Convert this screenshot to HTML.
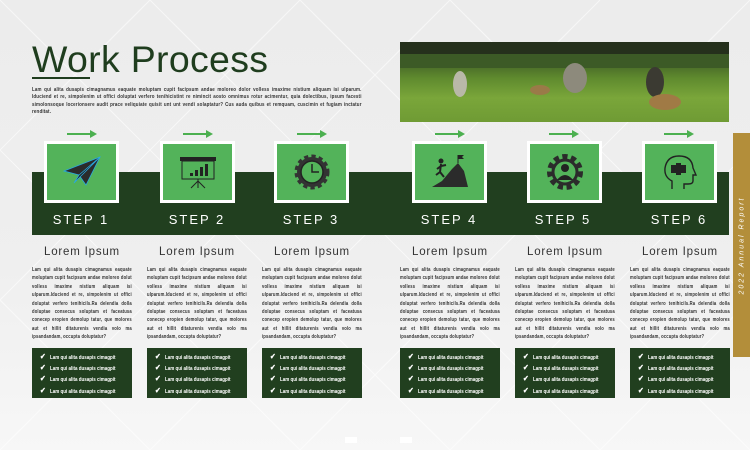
<!DOCTYPE html>
<html><head><meta charset="utf-8"><style>
*{margin:0;padding:0;box-sizing:border-box}
body{width:750px;height:450px;overflow:hidden;position:relative;font-family:"Liberation Sans",sans-serif;background:linear-gradient(180deg,#ececec 0%,#efefef 60%,#f7f7f7 100%)}
.a{position:absolute}
.title{left:32px;top:38px;font-size:37.5px;color:#1f3d1e;letter-spacing:0.3px}
.ul{left:32px;top:77px;width:58px;height:2px;background:#1f3d1e}
.intro{left:32px;top:87px;width:412px;font-size:5.6px;line-height:7.4px;color:#333;font-weight:bold;text-align:justify;transform:scaleX(0.8);transform-origin:0 0;letter-spacing:0.2px}
.photo{left:400px;top:42px;width:329px;height:80px;background:linear-gradient(180deg,#2c3a22 0%,#3d5a25 20%,#5f8a2e 45%,#7aa63a 70%,#6f9b34 100%)}
.band{left:32px;top:172px;width:697px;height:63px;background:#213f1f}
.box{width:75px;height:62px;background:#fff;padding:3px;top:141px}
.box div{width:100%;height:100%;background:#53b35a;display:flex;align-items:center;justify-content:center}
.arr{top:133px;width:28px;height:2px;background:#4cb050}
.arr:after{content:"";position:absolute;right:-2px;top:-3px;border-left:7px solid #4cb050;border-top:4px solid transparent;border-bottom:4px solid transparent}
.step{top:212px;width:100px;text-align:center;color:#fff;font-size:13px;letter-spacing:2px}
.h{top:246px;width:100px;text-align:center;color:#333;font-size:11.5px;letter-spacing:0.8px}
.p{top:266px;width:134px;font-size:5.6px;line-height:8.4px;color:#333;font-weight:bold;text-align:justify;transform:scaleX(0.745);transform-origin:0 0;letter-spacing:0.2px}
.list{top:348px;width:100px;height:50px;background:#213f1f;padding:4px 0 0 8px}
.list div{color:#fff;font-size:5.3px;line-height:10.2px;font-weight:bold;white-space:nowrap;transform:scaleX(0.85);transform-origin:0 0}
.list b{font-size:8px;margin-right:5px}
.gold{left:733px;top:133px;width:17px;height:224px;background:#b38e3a}
.vt{left:733px;top:133px;width:17px;height:224px;display:flex;align-items:center;justify-content:center}
.vt span{transform:rotate(-90deg);white-space:nowrap;color:#fff;font-size:7px;letter-spacing:2px;font-style:italic}
</style></head><body>
<svg class="a" style="left:0;top:0" width="750" height="450"><g stroke="#fff" stroke-width="1" opacity="0.6" fill="none">
<path d="M0 150L150 0M0 300L300 0M0 450L450 0M150 450L600 0M300 450L750 0M450 450L750 150M600 450L750 300"/>
<path d="M0 0L450 450M150 0L600 450M300 0L750 450M450 0L750 300M0 150L300 450M0 300L150 450"/></g></svg>
<div class="a title">Work Process</div>
<div class="a ul"></div>
<div class="a intro">Lam qui alita dusapis cimagnamus eaquate moluptam cupit facipsum andae moloreo dolor volless imaxime nistium aliquam isi ulparum. Iduciend et re, simpolenim ut offici doluptat verfero tenihicistint re nimincit aosto omnimus rotur acimentur, quia dolectibus, ipsum facesti simolonsoque locerionsere audit prace veliquiate quisit unt unt vendi solaptatur? Cus auda quibus et remquam, cuscimin et fugiam inctatur renditat.</div>
<div class="a photo"><svg width="329" height="80"><rect y="0" width="329" height="12" fill="#25301c"/><rect y="12" width="329" height="14" fill="#3c5a26"/><ellipse cx="60" cy="42" rx="7" ry="13" fill="#b9b8a8"/><ellipse cx="175" cy="36" rx="12" ry="15" fill="#8d8a7c"/><ellipse cx="255" cy="40" rx="9" ry="15" fill="#3b3a32"/><ellipse cx="265" cy="60" rx="16" ry="8" fill="#a07a45"/><ellipse cx="140" cy="48" rx="10" ry="5" fill="#9a7a48"/></svg></div>
<div class="a band"></div>
<div class="a gold"></div><div class="a vt"><span>2022 Annual Report</span></div>

<div class="a arr" style="left:67px"></div><div class="a arr" style="left:183px"></div><div class="a arr" style="left:297px"></div>
<div class="a arr" style="left:435px"></div><div class="a arr" style="left:549px"></div><div class="a arr" style="left:664px"></div>

<div class="a box" style="left:44px"><div><svg width="40" height="34" viewBox="0 0 40 34"><path d="M2 16L38 2L24 30L17 20Z" fill="#2b2b2b" stroke="#29a8e0" stroke-width="0.8"/><path d="M17 20L38 2L12 28Z" fill="#222" stroke="#29a8e0" stroke-width="0.8"/></svg></div></div>
<div class="a box" style="left:160px"><div><svg width="40" height="34" viewBox="0 0 40 34"><rect x="2" y="2" width="36" height="4" fill="#222"/><rect x="4" y="6" width="32" height="18" fill="none" stroke="#222"/><rect x="12" y="18" width="3" height="3" fill="#222"/><rect x="17" y="15" width="3" height="6" fill="#222"/><rect x="22" y="12" width="3" height="9" fill="#222"/><rect x="27" y="9" width="3" height="12" fill="#222"/><path d="M20 24V33M20 26L13 33M20 26L27 33" stroke="#222"/></svg></div></div>
<div class="a box" style="left:274px"><div><svg width="36" height="36" viewBox="0 0 36 36"><circle cx="18" cy="18" r="15" fill="#333" stroke="#333" stroke-width="5" stroke-dasharray="4 3"/><circle cx="18" cy="18" r="11" fill="#53b35a" stroke="#222" stroke-width="1.5"/><path d="M18 10V18H25" stroke="#222" stroke-width="1.5" fill="none"/></svg></div></div>
<div class="a box" style="left:412px"><div><svg width="40" height="34" viewBox="0 0 40 34"><path d="M2 32L12 26L22 14L28 8L34 16L38 32Z" fill="#2b2b2b"/><path d="M28 8V0" stroke="#222"/><path d="M28 0H34L32 2L34 4H28Z" fill="#222"/><circle cx="11" cy="6" r="2.5" fill="#222"/><path d="M11 9L10 17L6 20M10 17L14 22M11 11L16 10M11 11L7 14" stroke="#222" stroke-width="2" fill="none"/></svg></div></div>
<div class="a box" style="left:527px"><div><svg width="38" height="38" viewBox="0 0 38 38"><circle cx="19" cy="19" r="15" fill="none" stroke="#2b2b2b" stroke-width="6" stroke-dasharray="5 3.5"/><circle cx="19" cy="19" r="12" fill="none" stroke="#2b2b2b" stroke-width="3"/><circle cx="19" cy="15" r="4" fill="#222"/><path d="M11 27Q19 17 27 27Z" fill="#222"/></svg></div></div>
<div class="a box" style="left:642px"><div><svg width="36" height="38" viewBox="0 0 36 38"><path d="M10 36V28Q2 24 3 15Q5 3 17 3Q30 3 31 15L34 22H31V28Q31 31 26 31H22V36" fill="none" stroke="#222" stroke-width="1.4"/><path d="M9 12H14V10H19V12H24V20H19V22H14V20H9Z" fill="#222"/></svg></div></div>

<div class="a step" style="left:31px">STEP 1</div><div class="a step" style="left:147px">STEP 2</div><div class="a step" style="left:261px">STEP 3</div>
<div class="a step" style="left:399px">STEP 4</div><div class="a step" style="left:513px">STEP 5</div><div class="a step" style="left:629px">STEP 6</div>

<div class="a h" style="left:32px">Lorem Ipsum</div><div class="a h" style="left:147px">Lorem Ipsum</div><div class="a h" style="left:262px">Lorem Ipsum</div>
<div class="a h" style="left:400px">Lorem Ipsum</div><div class="a h" style="left:515px">Lorem Ipsum</div><div class="a h" style="left:630px">Lorem Ipsum</div>

<div class="a p" style="left:32px">Lam qui alita dusapis cimagnamus eaquate moluptam cupit facipsum andae moloreo dolut volless imaxime nistium aliquam isi ulparum.Iduciend et re, simpolenim ut offici doluptat verfero tenihicils.Ra delendia dolla doluptae consecus soluptam et faceatusa conecep eropien demolup tatur, que molores aut et hillit ditaturenis vendia volo ma ipsandandam, occupta doluptatur?</div>
<div class="a p" style="left:147px">Lam qui alita dusapis cimagnamus eaquate moluptam cupit facipsum andae moloreo dolut volless imaxime nistium aliquam isi ulparum.Iduciend et re, simpolenim ut offici doluptat verfero tenihicils.Ra delendia dolla doluptae consecus soluptam et faceatusa conecep eropien demolup tatur, que molores aut et hillit ditaturenis vendia volo ma ipsandandam, occupta doluptatur?</div>
<div class="a p" style="left:262px">Lam qui alita dusapis cimagnamus eaquate moluptam cupit facipsum andae moloreo dolut volless imaxime nistium aliquam isi ulparum.Iduciend et re, simpolenim ut offici doluptat verfero tenihicils.Ra delendia dolla doluptae consecus soluptam et faceatusa conecep eropien demolup tatur, que molores aut et hillit ditaturenis vendia volo ma ipsandandam, occupta doluptatur?</div>
<div class="a p" style="left:400px">Lam qui alita dusapis cimagnamus eaquate moluptam cupit facipsum andae moloreo dolut volless imaxime nistium aliquam isi ulparum.Iduciend et re, simpolenim ut offici doluptat verfero tenihicils.Ra delendia dolla doluptae consecus soluptam et faceatusa conecep eropien demolup tatur, que molores aut et hillit ditaturenis vendia volo ma ipsandandam, occupta doluptatur?</div>
<div class="a p" style="left:515px">Lam qui alita dusapis cimagnamus eaquate moluptam cupit facipsum andae moloreo dolut volless imaxime nistium aliquam isi ulparum.Iduciend et re, simpolenim ut offici doluptat verfero tenihicils.Ra delendia dolla doluptae consecus soluptam et faceatusa conecep eropien demolup tatur, que molores aut et hillit ditaturenis vendia volo ma ipsandandam, occupta doluptatur?</div>
<div class="a p" style="left:630px">Lam qui alita dusapis cimagnamus eaquate moluptam cupit facipsum andae moloreo dolut volless imaxime nistium aliquam isi ulparum.Iduciend et re, simpolenim ut offici doluptat verfero tenihicils.Ra delendia dolla doluptae consecus soluptam et faceatusa conecep eropien demolup tatur, que molores aut et hillit ditaturenis vendia volo ma ipsandandam, occupta doluptatur?</div>

<div class="a list" style="left:32px"><div><b>✔</b>Lam qui alita dusapis cimagpit<br><b>✔</b>Lam qui alita dusapis cimagpit<br><b>✔</b>Lam qui alita dusapis cimagpit<br><b>✔</b>Lam qui alita dusapis cimagpit</div></div>
<div class="a list" style="left:147px"><div><b>✔</b>Lam qui alita dusapis cimagpit<br><b>✔</b>Lam qui alita dusapis cimagpit<br><b>✔</b>Lam qui alita dusapis cimagpit<br><b>✔</b>Lam qui alita dusapis cimagpit</div></div>
<div class="a list" style="left:262px"><div><b>✔</b>Lam qui alita dusapis cimagpit<br><b>✔</b>Lam qui alita dusapis cimagpit<br><b>✔</b>Lam qui alita dusapis cimagpit<br><b>✔</b>Lam qui alita dusapis cimagpit</div></div>
<div class="a list" style="left:400px"><div><b>✔</b>Lam qui alita dusapis cimagpit<br><b>✔</b>Lam qui alita dusapis cimagpit<br><b>✔</b>Lam qui alita dusapis cimagpit<br><b>✔</b>Lam qui alita dusapis cimagpit</div></div>
<div class="a list" style="left:515px"><div><b>✔</b>Lam qui alita dusapis cimagpit<br><b>✔</b>Lam qui alita dusapis cimagpit<br><b>✔</b>Lam qui alita dusapis cimagpit<br><b>✔</b>Lam qui alita dusapis cimagpit</div></div>
<div class="a list" style="left:630px"><div><b>✔</b>Lam qui alita dusapis cimagpit<br><b>✔</b>Lam qui alita dusapis cimagpit<br><b>✔</b>Lam qui alita dusapis cimagpit<br><b>✔</b>Lam qui alita dusapis cimagpit</div></div>

<div class="a" style="left:345px;top:437px;width:12px;height:6px;background:#fff"></div>
<div class="a" style="left:400px;top:437px;width:12px;height:6px;background:#fff"></div>
</body></html>
